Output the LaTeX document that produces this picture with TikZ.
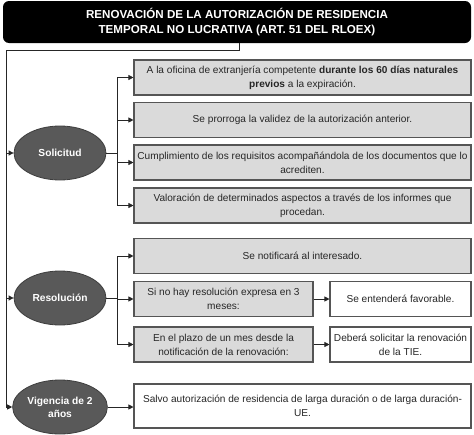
\documentclass[tikz,border=0pt]{standalone}
\usepackage{fontspec}
\setmainfont{Liberation Sans}
\usetikzlibrary{arrows.meta,positioning,shapes.geometric}
\definecolor{boxgray}{HTML}{DADADA}
\definecolor{linegray}{HTML}{555555}
\definecolor{ovalgray}{HTML}{595959}
\definecolor{txt}{HTML}{262626}
\begin{document}
\begin{tikzpicture}[x=1pt,y=-1pt,
  every node/.style={font=\fontsize{10.1}{14}\selectfont,text=txt,inner sep=1pt},
  graybox/.style={draw=linegray,line width=1.1pt,fill=boxgray,align=center,minimum height=35pt},
  whitebox/.style={draw=linegray,line width=1.1pt,fill=white,align=center,minimum height=35pt},
  oval/.style={ellipse,draw=ovalgray!70!black,line width=.8pt,fill=ovalgray,minimum width=92pt,minimum height=54pt,
    text=white,font=\fontsize{10.2}{13}\selectfont\bfseries,align=center},
  conn/.style={draw=black!85,line width=.8pt},
  arr/.style={conn,-{Triangle[length=5pt,width=5pt]}}]
\useasboundingbox (0,0) rectangle (474,434);
\node[fill=black,rounded corners=6pt,minimum width=468pt,minimum height=42pt,text=white,align=center,
  font=\fontsize{11.6}{15}\selectfont\bfseries] (title) at (237,22)
  {RENOVACIÓN DE LA AUTORIZACIÓN DE RESIDENCIA\\TEMPORAL NO LUCRATIVA (ART. 51 DEL RLOEX)};
\coordinate (trunk) at (6,50);
\coordinate (sb) at (117,0);
\node[oval] (sol) at (60,153) {Solicitud};
\node[oval] (res) at (60,298) {Resolución};
\node[oval] (vig) at (60,407) {Vigencia de 2\\años};
\node[graybox,minimum width=337pt] (b1) at (302.5,77.5)
  {A la oficina de extranjería competente \textbf{durante los 60 días naturales}\\\textbf{previos} a la expiración.};
\node[graybox,minimum width=337pt] (b2) at (302.5,120) {Se prorroga la validez de la autorización anterior.};
\node[graybox,minimum width=337pt] (b3) at (302.5,162.5)
  {Cumplimiento de los requisitos acompañándola de los documentos que lo\\acrediten.};
\node[graybox,minimum width=337pt] (b4) at (302.5,205.5)
  {Valoración de determinados aspectos a través de los informes que\\procedan.};
\node[graybox,minimum width=337pt] (r1) at (302.5,256) {Se notificará al interesado.};
\node[graybox,minimum width=179pt] (r2) at (223.5,299) {Si no hay resolución expresa en 3\\meses:};
\node[graybox,minimum width=179pt] (r3) at (223.5,344.5) {En el plazo de un mes desde la\\notificación de la renovación:};
\node[whitebox,minimum width=141pt] (w2) at (400.5,299) {Se entenderá favorable.};
\node[whitebox,minimum width=141pt] (w3) at (400.5,344.5) {Deberá solicitar la renovación\\de la TIE.};
\node[whitebox,minimum width=337pt,minimum height=44pt] (s1) at (302.5,406)
  {Salvo autorización de residencia de larga duración o de larga duración-\\UE.};
\draw[arr] ([xshift=2pt]title.south) |- (trunk) |- (vig.west);
\draw[arr] (sol.west -| trunk) -- (sol.west);
\draw[arr] (res.west -| trunk) -- (res.west);
\foreach \n in {b1,b2,b3,b4}
  \draw[arr] (sol.east) -- (sol.east -| sb) |- (\n.west);
\foreach \n in {r1,r2,r3}
  \draw[arr] (res.east) -- (res.east -| sb) |- (\n.west);
\draw[arr] (r2.east) -- (w2.west);
\draw[arr] (r3.east) -- (w3.west);
\draw[arr] (vig.east) -- (vig.east -| s1.west);
\end{tikzpicture}
\end{document}
